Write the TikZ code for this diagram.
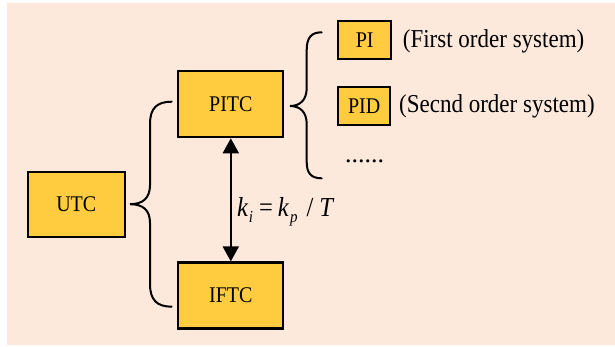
\documentclass[tikz,border=0pt]{standalone}
\usepackage{fontspec}
\usepackage{graphicx}
\setmainfont{Liberation Serif}
\usetikzlibrary{arrows.meta}
\definecolor{bgc}{RGB}{253,233,220}
\definecolor{boxy}{RGB}{255,204,64}
\newcommand\vstretch[1]{\scalebox{1}[1.12]{#1}}
\begin{document}
\begin{tikzpicture}[x=1pt,y=-1pt,
  blk/.style={draw=black, line width=2.2pt, fill=boxy, inner sep=0pt, font=\fontsize{20}{24}\selectfont},
  lbl/.style={font=\fontsize{23}{27}\selectfont, inner sep=0pt, anchor=west},
  bracepath/.style={line width=2pt, line cap=round},
  dblarrow/.style={line width=2pt, {Triangle[length=15pt,width=16pt]}-{Triangle[length=15pt,width=16pt]}}]
\useasboundingbox (0,0) rectangle (615,346);
\fill[bgc] (7,3) rectangle (615,345);
% boxes
\node[blk, minimum width=97pt, minimum height=65pt] (utc) at (76.3,204.2) {\vstretch{UTC}};
\node[blk, minimum width=105pt, minimum height=66pt] (pitc) at (230.8,104.2) {\vstretch{PITC}};
\node[blk, minimum width=105pt, minimum height=66pt] (iftc) at (230.8,295.5) {\vstretch{IFTC}};
\node[blk, minimum width=53pt, minimum height=38pt] (pi) at (364.7,40) {\vstretch{PI}};
\node[blk, minimum width=52pt, minimum height=38pt] (pid) at (364.2,105.8) {\vstretch{PID}};
% texts
\node[lbl] (t1) at (402.7,41.7) {\vstretch{(First order system)}};
\node[lbl] (t2) at (399,106.7) {\vstretch{(Secnd order system)}};
\node[lbl, anchor=base west, font=\fontsize{26}{30}\selectfont] (dots) at (345,162) {......};
\node[inner sep=0pt, anchor=base west, font=\fontsize{24.5}{28}\selectfont] (eq) at (237,216)
  {\vstretch{\textit{k}\kern0.5pt\raisebox{-6pt}{\fontsize{15}{15}\selectfont\textit{i}}\hspace{6pt}=\hspace{5pt}\textit{k}\kern1pt\raisebox{-6pt}{\fontsize{15}{15}\selectfont\textit{p}}\hspace{9pt}/\hspace{6pt}\textit{T}}};
% arrow
\draw[dblarrow] (pitc.south) -- (iftc.north);
% left brace
\coordinate (lbtop) at (171.7,101.7);
\coordinate (lbtip) at (130,204.2);
\coordinate (lbbot) at (171.7,306.7);
\draw[bracepath] (lbtop) .. controls (157,101.7) and (150,108) .. (150,124)
  -- (150,185) .. controls (150,198) and (143,204.2) .. (lbtip)
  .. controls (143,204.2) and (150,210) .. (150,223)
  -- (150,284) .. controls (150,300) and (157,306.7) .. (lbbot);
% right brace
\coordinate (rbtop) at (321.7,32.3);
\coordinate (rbtip) at (290,106);
\coordinate (rbbot) at (321.7,178.3);
\draw[bracepath] (rbtop) .. controls (311,32.3) and (306.7,38) .. (306.7,50)
  -- (306.7,88) .. controls (306.7,100) and (300,106) .. (rbtip)
  .. controls (300,106) and (306.7,112) .. (306.7,124)
  -- (306.7,162) .. controls (306.7,173) and (311,178.3) .. (rbbot);
\end{tikzpicture}
\end{document}
